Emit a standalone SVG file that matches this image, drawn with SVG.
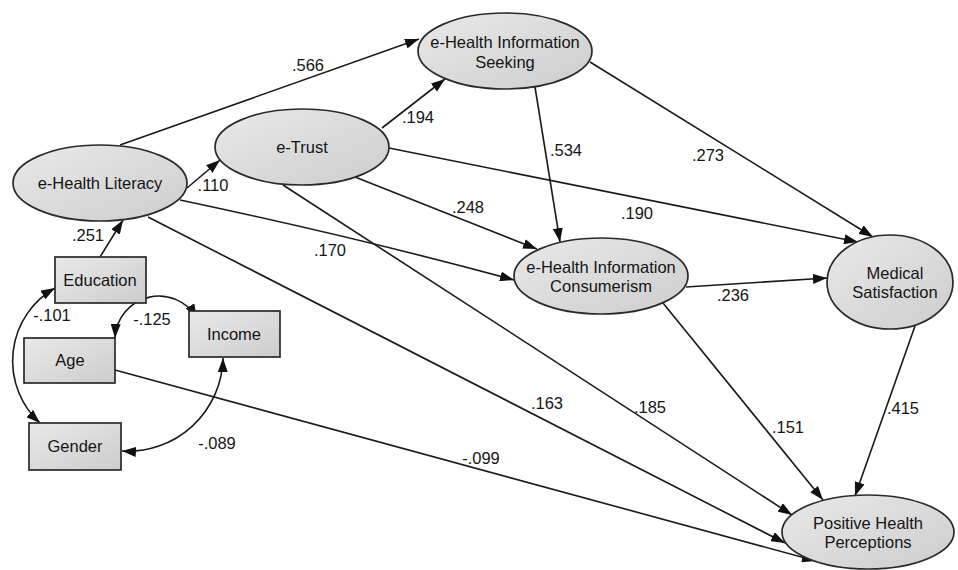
<svg xmlns="http://www.w3.org/2000/svg" width="958" height="570" viewBox="0 0 958 570">
<style>
.node ellipse, .node rect { fill: url(#g); stroke: #2a2a2a; stroke-width: 1.7; }
text { font-family: "Liberation Sans", Arial, sans-serif; font-size: 16.5px; fill: #151515; text-anchor: middle; }
.edges path, .edges line { fill: none; stroke: #1a1a1a; stroke-width: 1.6; marker-end: url(#arr); }
.edges .cov { marker-start: url(#arr); }
</style>
<defs>
<linearGradient id="g" x1="0" y1="0" x2="1" y2="1">
<stop offset="0" stop-color="#e9e9e9"/>
<stop offset="1" stop-color="#cdcdcd"/>
</linearGradient>
<marker id="arr" markerUnits="userSpaceOnUse" markerWidth="14" markerHeight="10" refX="14" refY="5" orient="auto-start-reverse">
<path d="M0,0 L14,5 L0,10 z" fill="#111"/>
</marker>
</defs>
<rect width="958" height="570" fill="#fff"/>
<g class="edges" id="connectors">
<line x1="120" y1="145" x2="419" y2="39"/>
<line x1="187" y1="188" x2="220" y2="160"/>
<line x1="382" y1="128" x2="445" y2="79"/>
<line x1="389" y1="148" x2="858" y2="242"/>
<line x1="355" y1="177" x2="537" y2="249"/>
<path d="M180,200 Q360,238 514,280"/>
<line x1="148" y1="217" x2="785" y2="543"/>
<line x1="283" y1="185" x2="792" y2="515"/>
<line x1="115" y1="370" x2="816" y2="561"/>
<line x1="535" y1="87" x2="560" y2="242"/>
<line x1="590" y1="62" x2="873" y2="237"/>
<line x1="686" y1="287" x2="827" y2="278"/>
<line x1="663" y1="303" x2="823" y2="500"/>
<line x1="915" y1="326" x2="855" y2="496"/>
<line x1="100" y1="257" x2="123" y2="220"/>
<path class="cov" d="M55,288 A84 84 0 0 0 40,423"/>
<path class="cov" d="M115,338 A44 44 0 0 1 197,318"/>
<path class="cov" d="M223,358 A95 95 0 0 1 122,451"/>
</g>
<g id="labels">
<text x="308" y="71">.566</text>
<text x="213" y="191">.110</text>
<text x="418" y="123">.194</text>
<text x="637" y="219">.190</text>
<text x="468" y="213">.248</text>
<text x="330" y="256">.170</text>
<text x="566" y="156">.534</text>
<text x="708" y="161">.273</text>
<text x="733" y="301">.236</text>
<text x="788" y="433">.151</text>
<text x="903" y="414">.415</text>
<text x="547" y="409">.163</text>
<text x="650" y="413">.185</text>
<text x="481" y="464">-.099</text>
<text x="88" y="241">.251</text>
<text x="52" y="321">-.101</text>
<text x="152" y="325">-.125</text>
<text x="217" y="449">-.089</text>
</g>
<g class="node" id="literacy"><ellipse cx="100" cy="183" rx="87" ry="38"/><text x="100" y="189">e-Health Literacy</text></g>
<g class="node" id="trust"><ellipse cx="302" cy="147" rx="87" ry="38"/><text x="302" y="153">e-Trust</text></g>
<g class="node" id="seeking"><ellipse cx="505" cy="51" rx="87" ry="38"/><text x="505" y="48">e-Health Information</text><text x="505" y="68">Seeking</text></g>
<g class="node" id="consumerism"><ellipse cx="601" cy="276" rx="87" ry="38"/><text x="601" y="273">e-Health Information</text><text x="601" y="292">Consumerism</text></g>
<g class="node" id="medical"><ellipse cx="890" cy="282" rx="63" ry="47"/><text x="895" y="279">Medical</text><text x="895" y="298">Satisfaction</text></g>
<g class="node" id="positive"><ellipse cx="868" cy="532" rx="86" ry="37"/><text x="868" y="529">Positive Health</text><text x="868" y="548">Perceptions</text></g>
<g class="node" id="education"><rect x="55" y="257" width="91" height="46"/><text x="100" y="286">Education</text></g>
<g class="node" id="income"><rect x="189" y="311" width="91" height="46"/><text x="234" y="340">Income</text></g>
<g class="node" id="age"><rect x="24" y="338" width="91" height="45"/><text x="70" y="366">Age</text></g>
<g class="node" id="gender"><rect x="29" y="423" width="92" height="47"/><text x="75" y="452">Gender</text></g>
</svg>
